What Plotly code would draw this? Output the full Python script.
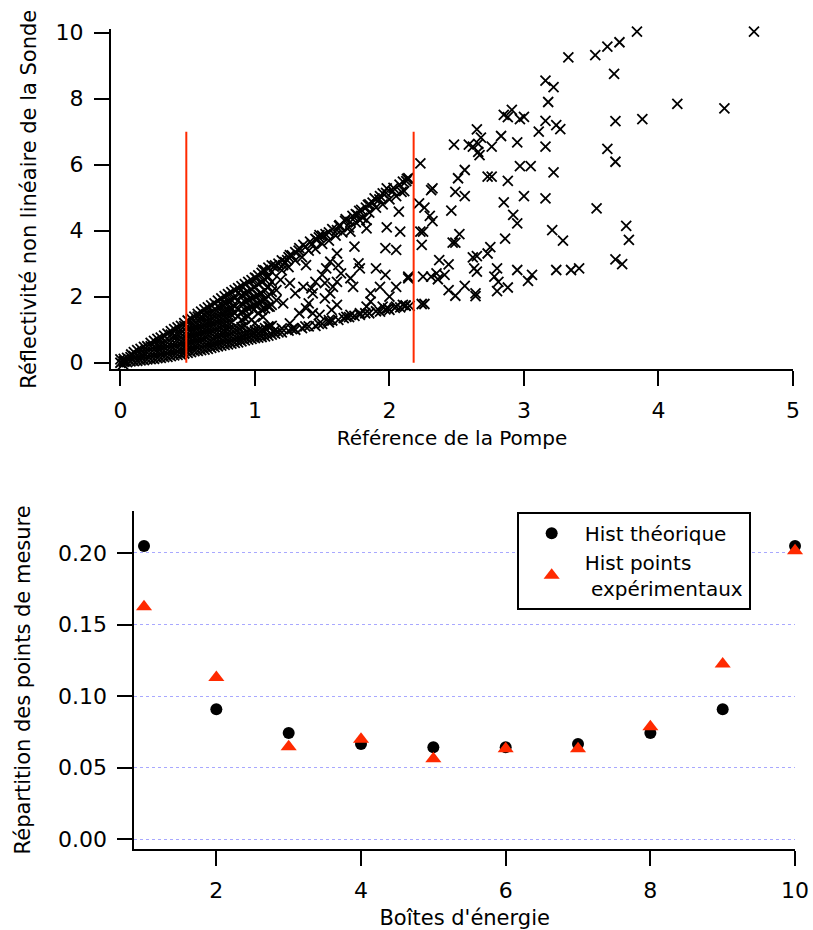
import plotly.graph_objects as go

# --- panneau du haut : réflectivité sonde vs référence pompe ---
dense_pts = [
    (0.00, 0.00), (0.00, 0.10), (0.03, 0.05), (0.02, -0.05),
    (0.05, 0.02), (0.05, 0.15), (0.08, 0.25),
    (0.10, 0.05), (0.10, 0.20), (0.10, 0.32),
    (0.15, 0.07), (0.15, 0.25), (0.15, 0.42),
    (0.20, 0.10), (0.20, 0.30), (0.20, 0.50),
    (0.25, 0.12), (0.25, 0.30), (0.25, 0.50), (0.25, 0.66),
    (0.30, 0.15), (0.30, 0.35), (0.30, 0.55), (0.30, 0.76),
    (0.35, 0.18), (0.35, 0.38), (0.35, 0.60), (0.35, 0.88),
    (0.40, 0.22), (0.40, 0.42), (0.40, 0.62), (0.40, 0.82), (0.40, 1.02),
    (0.45, 0.25), (0.45, 0.45), (0.45, 0.65), (0.45, 0.88), (0.45, 1.12),
    (0.50, 0.30), (0.50, 0.50), (0.50, 0.70), (0.50, 0.90), (0.50, 1.10), (0.50, 1.28),
    (0.55, 0.35), (0.55, 0.55), (0.55, 0.75), (0.55, 0.95), (0.55, 1.15), (0.55, 1.40),
    (0.60, 0.38), (0.60, 0.60), (0.60, 0.80), (0.60, 1.00), (0.60, 1.20), (0.60, 1.40), (0.60, 1.55),
    (0.65, 0.42), (0.65, 0.62), (0.65, 0.85), (0.65, 1.05), (0.65, 1.25), (0.65, 1.48), (0.65, 1.68),
    (0.70, 0.47), (0.70, 0.68), (0.70, 0.90), (0.70, 1.10), (0.70, 1.30), (0.70, 1.52), (0.70, 1.80),
    (0.75, 0.52), (0.75, 0.72), (0.75, 0.92), (0.75, 1.15), (0.75, 1.35), (0.75, 1.55), (0.75, 1.76), (0.75, 1.95),
    (0.80, 0.56), (0.80, 0.78), (0.80, 1.00), (0.80, 1.20), (0.80, 1.42), (0.80, 1.62), (0.80, 1.85), (0.80, 2.08),
    (0.85, 0.60), (0.85, 0.80), (0.85, 1.02), (0.85, 1.50), (0.85, 1.70), (0.85, 1.95), (0.85, 2.20),
    (0.90, 0.65), (0.90, 0.85), (0.90, 1.08), (0.90, 1.30), (0.90, 1.55), (0.90, 1.80), (0.90, 2.05), (0.90, 2.32),
    (0.95, 0.70), (0.95, 0.92), (0.95, 1.40), (0.95, 1.65), (0.95, 1.90), (0.95, 2.15), (0.95, 2.45),
    (1.00, 0.75), (1.00, 0.98), (1.00, 1.20), (1.00, 1.75), (1.00, 2.00), (1.00, 2.30), (1.00, 2.58),
    (1.05, 0.78), (1.05, 1.00), (1.05, 1.60), (1.05, 1.85), (1.05, 2.10), (1.05, 2.45), (1.05, 2.72),
    (1.10, 0.82), (1.10, 1.10), (1.10, 1.70), (1.10, 2.00), (1.10, 2.30), (1.10, 2.60), (1.10, 2.88),
]

# colonnes intercalées de la zone dense
dense_pts_2 = [
    (0.025, 0.03), (0.025, 0.12), (0.075, 0.04), (0.075, 0.17),
    (0.125, 0.06), (0.125, 0.22), (0.125, 0.38),
    (0.175, 0.08), (0.175, 0.28), (0.175, 0.48),
    (0.225, 0.11), (0.225, 0.30), (0.225, 0.50), (0.225, 0.60),
    (0.275, 0.14), (0.275, 0.32), (0.275, 0.52), (0.275, 0.72),
    (0.325, 0.17), (0.325, 0.37), (0.325, 0.58), (0.325, 0.82),
    (0.375, 0.20), (0.375, 0.40), (0.375, 0.61), (0.375, 0.85), (0.375, 0.96),
    (0.425, 0.24), (0.425, 0.44), (0.425, 0.64), (0.425, 0.85), (0.425, 1.07),
    (0.475, 0.28), (0.475, 0.48), (0.475, 0.68), (0.475, 0.89), (0.475, 1.11), (0.475, 1.20),
    (0.525, 0.32), (0.525, 0.52), (0.525, 0.72), (0.525, 0.92), (0.525, 1.12), (0.525, 1.34),
    (0.575, 0.36), (0.575, 0.58), (0.575, 0.78), (0.575, 0.98), (0.575, 1.18), (0.575, 1.40), (0.575, 1.48),
    (0.625, 0.40), (0.625, 0.61), (0.625, 0.82), (0.625, 1.02), (0.625, 1.22), (0.625, 1.44), (0.625, 1.62),
    (0.675, 0.45), (0.675, 0.65), (0.675, 0.88), (0.675, 1.08), (0.675, 1.28), (0.675, 1.50), (0.675, 1.74),
    (0.725, 0.50), (0.725, 0.70), (0.725, 0.91), (0.725, 1.12), (0.725, 1.32), (0.725, 1.54), (0.725, 1.72), (0.725, 1.88),
    (0.775, 0.54), (0.775, 0.75), (0.775, 0.96), (0.775, 1.18), (0.775, 1.38), (0.775, 1.58), (0.775, 1.80), (0.775, 2.02),
    (0.825, 0.58), (0.825, 0.79), (0.825, 1.01), (0.825, 1.22), (0.825, 1.46), (0.825, 1.66), (0.825, 1.90), (0.825, 2.14),
    (0.875, 0.62), (0.875, 0.82), (0.875, 1.05), (0.875, 1.40), (0.875, 1.62), (0.875, 1.88), (0.875, 2.12), (0.875, 2.26),
    (0.925, 0.68), (0.925, 0.88), (0.925, 1.12), (0.925, 1.35), (0.925, 1.60), (0.925, 1.85), (0.925, 2.10), (0.925, 2.38),
    (0.975, 0.72), (0.975, 0.95), (0.975, 1.30), (0.975, 1.70), (0.975, 1.95), (0.975, 2.22), (0.975, 2.50),
    (1.025, 0.76), (1.025, 0.99), (1.025, 1.50), (1.025, 1.80), (1.025, 2.05), (1.025, 2.38), (1.025, 2.65),
    (1.075, 0.80), (1.075, 1.05), (1.075, 1.65), (1.075, 1.92), (1.075, 2.20), (1.075, 2.52), (1.075, 2.80),
    (1.125, 0.85), (1.125, 1.12), (1.125, 1.75), (1.125, 2.15), (1.125, 2.45), (1.125, 2.75), (1.125, 2.95),
]

band_pts = [
    # bord haut
    (1.15, 2.95), (1.20, 3.10), (1.25, 3.20), (1.30, 3.35), (1.45, 3.75), (1.50, 3.85),
    (1.55, 3.95), (1.67, 4.30), (1.75, 4.50), (1.85, 4.80), (1.93, 5.05), (2.03, 5.30),
    (1.20, 2.80), (1.30, 3.10), (1.40, 3.40), (1.50, 3.60), (1.60, 3.85), (1.70, 4.10),
    (1.80, 4.40), (1.90, 4.70), (2.00, 4.95),
    (1.175, 3.00), (1.225, 3.05), (1.275, 3.25), (1.325, 3.40), (1.375, 3.50), (1.425, 3.60),
    (1.475, 3.80), (1.525, 3.90), (1.575, 4.05), (1.625, 4.15), (1.675, 4.35), (1.725, 4.45),
    (1.775, 4.60), (1.825, 4.70), (1.875, 4.85), (1.925, 4.95), (1.975, 5.15), (2.025, 5.20),
    (2.075, 5.40), (2.125, 5.50),
    (1.25, 2.90), (1.35, 3.20), (1.45, 3.45), (1.55, 3.70), (1.65, 3.95), (1.75, 4.25),
    (1.85, 4.55), (1.95, 4.80), (2.05, 5.05),
    # bord bas
    (1.15, 0.88), (1.20, 0.92), (1.25, 0.97), (1.30, 1.00), (1.35, 1.05), (1.40, 1.10),
    (1.45, 1.12), (1.50, 1.18), (1.55, 1.22), (1.62, 1.30), (1.70, 1.38), (1.78, 1.45),
    (1.85, 1.50), (1.93, 1.55), (2.00, 1.60), (2.08, 1.68), (2.15, 1.72),
    (1.175, 0.92), (1.275, 1.02), (1.375, 1.10), (1.475, 1.18), (1.575, 1.28), (1.66, 1.35),
    (1.74, 1.42), (1.82, 1.50), (1.90, 1.56), (1.97, 1.62), (2.04, 1.66), (2.12, 1.74),
]

mid_pts = [
    (2.14, 5.59), (2.10, 5.49), (2.09, 5.18), (1.98, 5.28), (1.95, 5.13), (1.89, 4.98),
    (2.07, 4.58), (1.84, 4.78), (1.79, 4.63), (1.76, 4.48), (1.83, 4.32), (1.78, 4.32),
    (1.71, 4.27), (1.63, 4.17), (1.61, 4.02), (1.83, 4.07), (1.98, 4.10), (2.08, 3.97),
    (1.71, 3.97), (1.48, 3.87), (1.46, 3.72), (1.41, 3.67), (1.36, 3.57), (1.33, 3.47),
    (1.74, 3.52), (1.97, 3.47), (2.05, 3.42), (1.61, 3.31), (1.26, 3.26), (1.24, 3.11),
    (1.38, 2.96), (1.56, 3.06), (1.62, 2.96), (1.77, 3.01), (1.78, 2.86), (1.90, 2.86),
    (1.97, 2.66), (2.14, 2.61), (1.71, 2.56), (1.73, 2.30), (1.53, 2.86), (1.50, 2.66),
    (1.45, 2.45), (1.42, 2.25), (1.52, 2.41), (1.58, 2.30), (1.56, 2.10), (1.52, 1.95),
    (1.61, 1.75), (1.57, 1.60), (1.55, 1.29), (1.48, 1.45), (1.43, 1.50), (1.38, 1.65),
    (1.33, 1.50), (1.40, 1.80), (1.30, 2.10), (1.36, 2.30), (1.86, 2.10), (1.93, 2.30),
    (2.00, 2.00), (2.05, 2.30), (1.99, 1.65), (1.95, 1.70), (2.10, 1.75), (2.05, 1.70),
    (1.83, 1.70), (1.78, 1.50), (1.86, 1.85), (1.71, 1.45), (1.68, 1.39), (1.29, 1.04),
    (1.26, 1.19), (1.20, 1.04), (1.15, 0.99), (1.11, 1.09), (1.04, 0.84), (0.99, 0.89),
    (1.21, 1.80), (1.16, 1.90), (1.11, 1.70), (1.26, 2.41), (1.19, 2.51), (1.09, 2.61),
    (1.01, 2.56), (1.06, 2.81), (1.14, 2.91), (1.21, 2.96), (1.16, 2.20), (1.04, 2.10),
    (0.99, 1.60), (1.06, 1.39), (1.64, 2.71), (1.61, 2.45), (1.43, 2.10),
]

sparse_pts = [
    (3.84, 10.03), (4.71, 10.03), (3.33, 9.25), (3.53, 9.32), (3.62, 9.58), (3.71, 9.71),
    (3.67, 8.75), (3.16, 8.55), (3.22, 8.35), (3.18, 7.90), (4.14, 7.84), (4.49, 7.71),
    (3.68, 7.32), (3.88, 7.38), (2.85, 7.51), (2.91, 7.66), (2.88, 7.44), (3.00, 7.45),
    (2.97, 7.38), (3.16, 7.33), (3.24, 7.20), (3.27, 7.08), (3.11, 7.00), (2.65, 7.07),
    (2.83, 6.87), (2.68, 6.82), (2.48, 6.61), (2.59, 6.61), (2.62, 6.55), (2.66, 6.63),
    (2.76, 6.55), (2.95, 6.68), (3.16, 6.55), (2.66, 6.39), (2.67, 6.29), (3.62, 6.48),
    (3.68, 6.09), (2.23, 6.04), (2.56, 5.84), (2.51, 5.59), (2.97, 5.96), (3.05, 5.96),
    (3.22, 5.77), (2.73, 5.64), (2.76, 5.64), (2.88, 5.51), (2.13, 5.57), (2.31, 5.23),
    (2.32, 5.28), (2.49, 5.18), (2.56, 5.05), (2.11, 5.20), (2.85, 4.86), (3.00, 5.05),
    (3.16, 4.98), (3.54, 4.68), (2.22, 4.83), (2.26, 4.70), (2.46, 4.61), (2.30, 4.45),
    (2.32, 4.29), (2.92, 4.48), (2.95, 4.22), (3.76, 4.15), (3.78, 3.72), (3.21, 4.02),
    (3.29, 3.70), (2.23, 3.97), (2.25, 3.97), (2.24, 3.57), (2.52, 3.90), (2.47, 3.64),
    (2.49, 3.64), (2.86, 3.76), (2.75, 3.50), (2.73, 3.31), (2.62, 3.19), (2.65, 3.23),
    (2.37, 3.11), (2.44, 2.98), (3.68, 3.13), (3.73, 2.99), (2.63, 2.86), (2.65, 2.76),
    (2.80, 2.86), (2.95, 2.81), (3.24, 2.81), (3.35, 2.81), (3.41, 2.86), (3.06, 2.66),
    (3.03, 2.48), (2.14, 2.56), (2.25, 2.61), (2.31, 2.61), (2.35, 2.71), (2.41, 2.66),
    (2.36, 2.53), (2.78, 2.61), (2.81, 2.45), (2.88, 2.28), (2.80, 2.17), (2.56, 2.33),
    (2.44, 2.20), (2.49, 2.03), (2.64, 2.10), (2.64, 2.02), (2.24, 1.78), (2.26, 1.78),
    (2.12, 1.72),
]

limites_x = [0.49, 2.18]
limite_y = [0, 7]

# --- panneau du bas : histogrammes ---
boites = [1, 2, 3, 4, 5, 6, 7, 8, 9, 10]
hist_theo = [0.2048, 0.0908, 0.0742, 0.0665, 0.0642, 0.0642, 0.0665, 0.0742, 0.0908, 0.2048]
hist_exp = [0.1624, 0.1130, 0.0647, 0.0698, 0.0563, 0.0633, 0.0633, 0.0786, 0.1224, 0.2015]

rouge = '#ff2a00'
police = "DejaVu Sans"

pts = dense_pts + dense_pts_2 + band_pts + mid_pts + sparse_pts
xs = [p[0] for p in pts]
ys = [p[1] for p in pts]

fig = go.Figure()

fig.add_trace(go.Scatter(
    x=xs, y=ys, mode='markers', showlegend=False, cliponaxis=False,
    marker=dict(symbol='x-thin', size=10, line=dict(color='black', width=1.8)),
    xaxis='x', yaxis='y'))

for lx in limites_x:
    fig.add_trace(go.Scatter(
        x=[lx, lx], y=limite_y, mode='lines', showlegend=False,
        line=dict(color=rouge, width=2), xaxis='x', yaxis='y'))

fig.add_trace(go.Scatter(
    x=boites, y=hist_theo, mode='markers', name='Hist théorique', cliponaxis=False,
    marker=dict(symbol='circle', size=12, color='black'),
    xaxis='x2', yaxis='y2'))
fig.add_trace(go.Scatter(
    x=boites, y=hist_exp, mode='markers', name='Hist points<br> expérimentaux', cliponaxis=False,
    marker=dict(symbol='triangle-up', size=14, color=rouge),
    xaxis='x2', yaxis='y2'))

axe = dict(showline=True, linecolor='black', linewidth=2, ticks='outside', ticklen=15,
           tickwidth=2, tickcolor='black', showgrid=False, zeroline=False, automargin=False,
           tickfont=dict(size=22, color='black'), ticklabelstandoff=6,
           ticklabeloverflow='allow')
titre_v = dict(size=21, color='black')

fig.update_layout(
    width=813, height=930,
    margin=dict(l=0, r=0, t=0, b=0),
    paper_bgcolor='white', plot_bgcolor='white',
    font=dict(family=police, color='black', size=18),
    xaxis=dict(axe, domain=[0.1365, 0.9754], anchor='y', range=[-0.07, 5],
               tick0=0, dtick=1,
               title=dict(text='Référence de la Pompe', standoff=9,
                          font=dict(size=20, color='black'))),
    yaxis=dict(axe, domain=[0.6032, 0.9684], anchor='x', range=[-0.19, 10.1],
               tick0=0, dtick=2,
               title=dict(text='Réflectivité non linéaire de la Sonde', standoff=13, font=titre_v)),
    xaxis2=dict(axe, domain=[0.1652, 0.9779], anchor='y2', range=[0.866, 10],
                tick0=0, dtick=2,
                title=dict(text="Boîtes d'énergie", standoff=8,
                           font=dict(size=21, color='black'))),
    yaxis2=dict(axe, domain=[0.0871, 0.4508], anchor='x2', range=[-0.0068, 0.2295],
                tick0=0, dtick=0.05, tickformat='.2f',
                showgrid=True, gridcolor='#a8a8ff', gridwidth=1, griddash='dot',
                title=dict(text='Répartition des points de mesure', standoff=22, font=titre_v)),
    legend=dict(x=0.6355, y=0.4498, xanchor='left', yanchor='top', itemwidth=56,
                bgcolor='white', bordercolor='black', borderwidth=2,
                font=dict(size=20, color='black'), tracegroupgap=0),
)

# la page ajoute par défaut une marge de 8 px autour de la figure
fig.write_html("out.html", config={'displayModeBar': False},
               post_script="document.body.style.margin='0';document.body.style.overflow='hidden';")
